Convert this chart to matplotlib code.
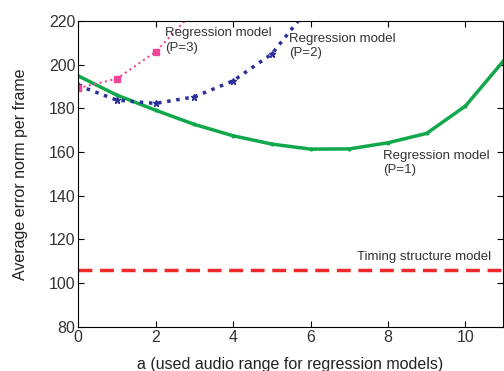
import matplotlib
matplotlib.use('Agg')
from matplotlib import pyplot as plt

# values
a = [0, 1, 2, 3, 4, 5, 6, 7, 8, 9, 10, 11]
p1 = [194.8, 186.0, 179.1, 172.6, 167.4, 163.6, 161.3, 161.4, 164.2, 168.5, 181.0, 202.0]
a2 = [0, 1, 2, 3, 4, 5, 6]
p2 = [190.4, 183.7, 182.2, 185.2, 192.5, 204.8, 227.0]
a3 = [0, 1, 2, 3]
p3 = [189.2, 193.5, 205.8, 224.5]
timing = 106.2

plt.rcParams['font.family'] = ['Liberation Sans', 'DejaVu Sans']

fig = plt.figure(figsize=(5.04, 3.71), dpi=100)
ax = fig.add_axes([0.155, 0.119, 0.843, 0.825])

ax.axhline(timing, color='#ee2a2a', lw=2.5, ls=(0, (4, 2.2)))
ax.plot(a, p1, color='#10a84a', lw=2.5, marker='.', ms=4)
ax.plot(a2, p2, color='#2b2f9c', lw=2.5, ls=':', marker='*', ms=5)
ax.plot(a3, p3, color='#f0479a', lw=1.5, ls=':', marker='s', ms=4)

txt = dict(fontsize=9.5, color='#333333', va='top', linespacing=1.25)
ax.text(2.25, 217.0, 'Regression model\n(P=3)', **txt)
ax.text(5.45, 214.5, 'Regression model\n(P=2)', **txt)
ax.text(7.87, 161.0, 'Regression model\n(P=1)', **txt)
ax.text(7.2, 109.0, 'Timing structure model', fontsize=9.5, color='#333333', va='bottom')

ax.set_xlim(0, 10.97)
ax.set_ylim(80, 220)
ax.set_xticks([0, 2, 4, 6, 8, 10])
ax.set_yticks(range(80, 221, 20))
ax.tick_params(direction='in', top=True, right=True, labelsize=11.5, colors='black', length=4, pad=2)
for lab in ax.get_xticklabels() + ax.get_yticklabels():
    lab.set_color('#333333')
ax.set_xlabel('a (used audio range for regression models)', fontsize=11.5, color='#222222')
ax.set_ylabel('Average error norm per frame', fontsize=11.5, color='#222222')
ax.xaxis.set_label_coords(0.5, -0.098)
ax.yaxis.set_label_coords(-0.117, 0.5)

fig.savefig('out.png', dpi=100)
